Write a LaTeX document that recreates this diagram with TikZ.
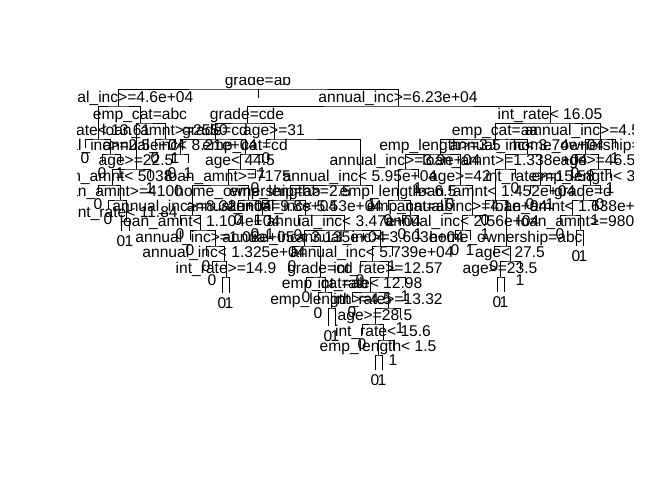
\documentclass[tikz,border=0pt]{standalone}
\usepackage{fontspec}
\setmainfont{Liberation Sans}
\newcommand{\Sp}[4]{\coordinate (#1) at (#2,#3); \node[lab] (#1t) at (#2,#3-4) {#4};}
\newcommand{\Lf}[4]{\coordinate (#1) at (#2,#3); \node[lab] (#1t) at (#2,#3+15) {#4};}
\newcommand{\Br}[3]{\draw[br] (#2) |- (#1) -| (#3);}
\begin{document}
\begin{tikzpicture}[x=1pt,y=-1pt,
  lab/.style={font=\fontsize{15.6}{18}\selectfont, anchor=base, inner sep=0pt},
  br/.style={line width=1pt, black}]
\fill[white] (0,0) rectangle (672,480);
\useasboundingbox (0,0) rectangle (672,480);
\begin{scope}
\clip (77,77.5) rectangle (633,384);
% ---------- splits ----------
\Sp{n0}{258}{89}{grade=ab}
\Sp{n1a}{118}{106}{annual\_inc>=4.6e+04}
\Sp{n1b}{398}{106}{annual\_inc>=6.23e+04}
\Sp{n2a}{140}{123}{emp\_cat=abc}
\Sp{n2b}{247}{123}{grade=cde}
\Sp{n2c}{550}{123}{int\_rate< 16.05}
\Sp{n3a}{98}{139}{int\_rate< 13.61}
\Sp{n3b}{165}{139}{loan\_amnt>=2550}
\Sp{n3c}{215}{139}{grade=cd}
\Sp{n3d}{274}{139}{age>=31}
\Sp{n3e}{495}{139}{emp\_cat=aa}
\Sp{n3f}{600}{139}{annual\_inc>=4.5e+04}
\Sp{n4a}{110}{154}{annual\_inc>=2.5e+04}
\Sp{n4b}{180}{154}{annual\_inc< 8.21e+04}
\Sp{n4c}{245}{154}{emp\_cat=cd}
\Sp{n4e}{440}{154}{emp\_length>=3.5}
\Sp{n4f}{527}{154}{annual\_inc< 3.74e+04}
\Sp{n4g}{585}{154}{home\_ownership=bc}
\Sp{n5a}{136}{169}{age>=22.5}
\Sp{n5b}{240}{169}{age< 44.5}
\Sp{n5c}{405}{169}{annual\_inc>=3.9e+04}
\Sp{n5d}{505}{169}{loan\_amnt>=1.338e+04}
\Sp{n5e}{598}{169}{age>=46.5}
\Sp{n6a}{112}{185}{loan\_amnt< 5038}
\Sp{n6b}{228}{185}{loan\_amnt>=7175}
\Sp{n6c}{360}{185}{annual\_inc< 5.95e+04}
\Sp{n6d}{460}{185}{age>=42}
\Sp{n6e}{540}{185}{int\_rate>=15.58}
\Sp{n6f}{590}{185}{emp\_length< 3.5}
\Sp{n7a}{120}{200}{loan\_amnt>=4100}
\Sp{n7c}{248}{200}{home\_ownership=ab}
\Sp{n7e}{290}{200}{emp\_length>=2.5}
\Sp{n7f}{398}{200}{emp\_length< 6.5}
\Sp{n7g}{495}{200}{loan\_amnt< 1.452e+04}
\Sp{n7h}{583}{200}{grade=d}
\Sp{n8a}{126}{221}{int\_rate< 11.84}
\Sp{n8e}{192}{215}{annual\_inc>=8.32e+04}
\Sp{n8c}{262}{215}{annual\_inc>=9.8e+04}
\Sp{n8d}{305}{215}{annual\_inc< 5.53e+04}
\Sp{n8f}{410}{215}{emp\_cat=ab}
\Sp{n8g}{472}{215}{annual\_inc>=4.1e+04}
\Sp{n8h}{572}{215}{loan\_amnt< 1.638e+04}
\Sp{n9d}{200}{230}{loan\_amnt< 1.104e+04}
\Sp{n9c}{344}{230}{annual\_inc< 3.47e+04}
\Sp{n9e}{462}{230}{annual\_inc< 2.56e+04}
\Sp{n9f}{580}{230}{loan\_amnt>=9800}
\Sp{n10e}{215}{246}{annual\_inc>=1.08e+05}
\Sp{n10c}{304}{246}{annual\_inc< 3.135e+04}
\Sp{n10d}{380}{246}{annual\_inc>=3.603e+04}
\Sp{n10f}{506}{246}{home\_ownership=abc}
\Sp{n11c}{224}{261}{annual\_inc< 1.325e+04}
\Sp{n11b}{372}{261}{annual\_inc< 5.739e+04}
\Sp{n11d}{510}{261}{age< 27.5}
\Sp{n12d}{226}{277}{int\_rate>=14.9}
\Sp{n12b}{320}{277}{grade=cd}
\Sp{n12c}{388}{277}{int\_rate>=12.57}
\Sp{n12e}{500}{277}{age>=23.5}
\Sp{n13b}{325}{292}{emp\_cat=ab}
\Sp{n13c}{370}{292}{int\_rate< 12.98}
\Sp{n14b}{331}{308}{emp\_length>=4.5}
\Sp{n14c}{388}{308}{int\_rate>=13.32}
\Sp{n15}{375}{324}{age>=28.5}
\Sp{n16}{383}{340}{int\_rate< 15.6}
\Sp{n17}{378}{355}{emp\_length< 1.5}
% ---------- leaves ----------
\Lf{l1}{85}{148}{0}   \Lf{l2}{102}{163}{0}  \Lf{l3}{120}{163}{1}
\Lf{l4}{150}{178}{1}  \Lf{l5}{98}{194}{0}   \Lf{l6}{108}{209}{0}
\Lf{l7}{121}{231}{0}  \Lf{l8}{129}{231}{1}  \Lf{l9}{155}{148}{0}
\Lf{l10}{175}{148}{1} \Lf{l11}{172}{163}{0} \Lf{l12}{188}{163}{1}
\Lf{l13}{262}{163}{1} \Lf{l14}{255}{178}{0} \Lf{l15}{238}{210}{0}
\Lf{l16}{258}{210}{1} \Lf{l17}{180}{224}{0} \Lf{l18}{190}{240}{0}
\Lf{l19}{206}{256}{0} \Lf{l20}{212}{270}{0} \Lf{l21}{222}{293}{0}
\Lf{l22}{229}{293}{1} \Lf{l23}{266}{148}{0} \Lf{l24}{372}{194}{1}
\Lf{l25}{255}{224}{0} \Lf{l26}{270}{224}{1} \Lf{l27}{298}{225}{0}
\Lf{l28}{292}{256}{0} \Lf{l29}{306}{287}{0} \Lf{l30}{318}{303}{0}
\Lf{l31}{328}{326}{0} \Lf{l32}{335}{326}{1} \Lf{l33}{392}{256}{1}
\Lf{l34}{360}{270}{0} \Lf{l35}{405}{286}{1} \Lf{l36}{352}{302}{0}
\Lf{l37}{400}{318}{1} \Lf{l38}{362}{334}{0} \Lf{l39}{393}{350}{1}
\Lf{l40}{375}{370}{0} \Lf{l41}{382}{370}{1}
\Lf{l42}{418}{178}{1} \Lf{l43}{388}{210}{0} \Lf{l44}{402}{224}{0}
\Lf{l45}{418}{224}{1} \Lf{l46}{450}{194}{0} \Lf{l47}{485}{224}{1}
\Lf{l48}{455}{240}{0} \Lf{l49}{470}{240}{1} \Lf{l50}{515}{178}{0}
\Lf{l51}{485}{210}{0} \Lf{l52}{494}{256}{0} \Lf{l53}{520}{270}{1}
\Lf{l54}{497}{292}{0} \Lf{l55}{504}{292}{1} \Lf{l56}{530}{194}{0}
\Lf{l57}{550}{194}{1} \Lf{l58}{615}{148}{1} \Lf{l59}{575}{163}{0}
\Lf{l60}{610}{178}{1} \Lf{l61}{600}{194}{0} \Lf{l62}{595}{210}{1}
\Lf{l63}{560}{224}{0} \Lf{l64}{576}{246}{0} \Lf{l65}{583}{246}{1}
% ---------- branches ----------
\coordinate (rt) at (258,98);
\draw[br] (n0) -- (rt);
\Br{n0}{n1a}{n1b}
\Br{n1a}{n3a}{n2a}
\Br{n3a}{l1}{n4a}
\Br{n4a}{l2}{l3}
\Br{n2a}{n5a}{n3b}
\Br{n5a}{n6a}{l4}
\Br{n6a}{l5}{n7a}
\Br{n7a}{l6}{n8a}
\Br{n8a}{l7}{l8}
\Br{n3b}{l9}{l10}
\Br{n1b}{n2b}{n2c}
\Br{n2b}{n3c}{n3d}
\Br{n3c}{n4b}{n4c}
\Br{n4b}{l11}{l12}
\Br{n4c}{n5b}{l13}
\Br{n5b}{n6b}{l14}
\Br{n6b}{n8e}{n7c}
\Br{n7c}{l15}{l16}
\Br{n8e}{l17}{n9d}
\Br{n9d}{l18}{n10e}
\Br{n10e}{l19}{n11c}
\Br{n11c}{l20}{n12d}
\Br{n12d}{l21}{l22}
\Br{n3d}{l23}{n6c}
\Br{n6c}{n7e}{l24}
\Br{n7e}{n8c}{n8d}
\Br{n8c}{l25}{l26}
\Br{n8d}{l27}{n9c}
\Br{n9c}{n10c}{n10d}
\Br{n10c}{l28}{n12b}
\Br{n12b}{l29}{n13b}
\Br{n13b}{l30}{n14b}
\Br{n14b}{l31}{l32}
\Br{n10d}{n11b}{l33}
\Br{n11b}{l34}{n12c}
\Br{n12c}{n13c}{l35}
\Br{n13c}{l36}{n14c}
\Br{n14c}{n15}{l37}
\Br{n15}{l38}{n16}
\Br{n16}{n17}{l39}
\Br{n17}{l40}{l41}
\Br{n2c}{n3e}{n3f}
\Br{n3e}{n4e}{n4f}
\Br{n4e}{n5c}{n6d}
\Br{n5c}{n7f}{l42}
\Br{n7f}{l43}{n8f}
\Br{n8f}{l44}{l45}
\Br{n6d}{l46}{n8g}
\Br{n8g}{n9e}{l47}
\Br{n9e}{l48}{l49}
\Br{n4f}{n5d}{n6e}
\Br{n5d}{n7g}{l50}
\Br{n7g}{l51}{n10f}
\Br{n10f}{l52}{n11d}
\Br{n11d}{n12e}{l53}
\Br{n12e}{l54}{l55}
\Br{n6e}{l56}{l57}
\Br{n3f}{n4g}{l58}
\Br{n4g}{l59}{n5e}
\Br{n5e}{n6f}{l60}
\Br{n6f}{n7h}{l61}
\Br{n7h}{n8h}{l62}
\Br{n8h}{l63}{n9f}
\Br{n9f}{l64}{l65}
\end{scope}
\end{tikzpicture}
\end{document}
